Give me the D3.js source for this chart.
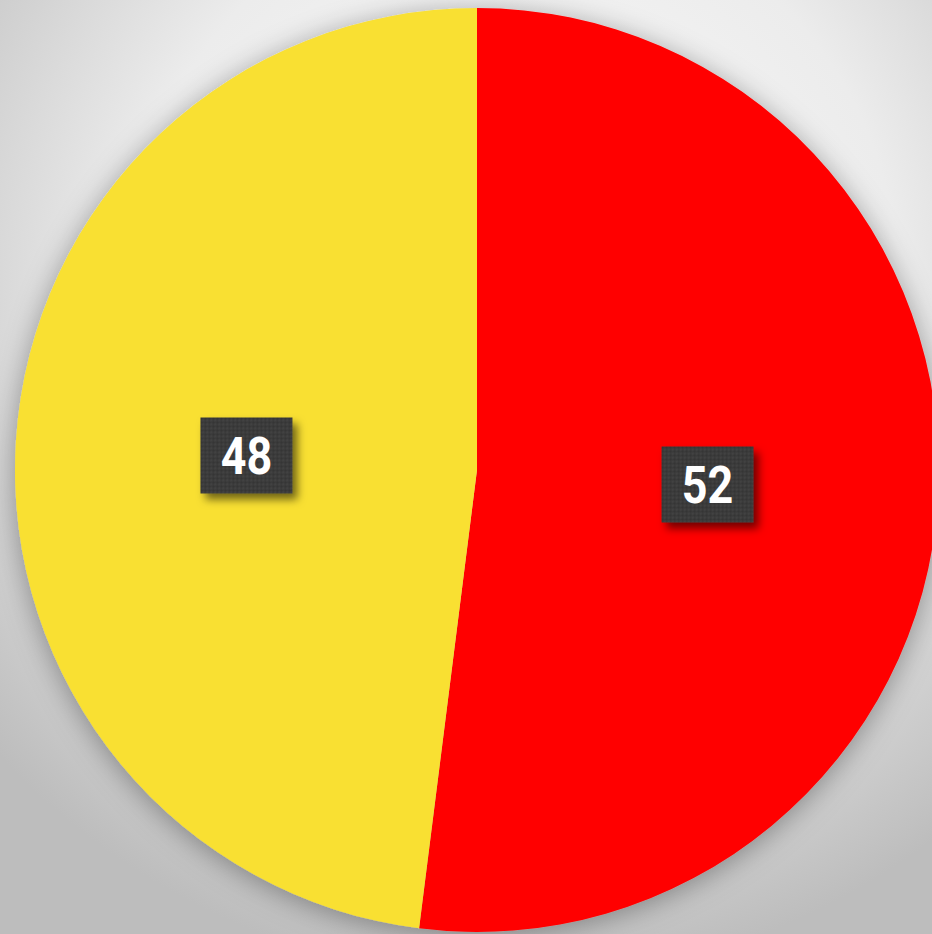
<!DOCTYPE html>
<html>
<head>
<meta charset="utf-8">
<script src="https://cdn.jsdelivr.net/npm/d3@7"></script>
<style>
  html, body { margin: 0; padding: 0; overflow: hidden; }
  body { width: 932px; height: 934px; }
</style>
</head>
<body>
<div id="chart"></div>
<script>
const categories = ['Red', 'Yellow'];
const values = [52, 48];
const colors = ['#ff0000', '#f9e033'];

const width = 932;
const height = 934;
const cx = 477, cy = 470, radius = 462;

const svg = d3.select('#chart')
  .append('svg')
  .attr('width', width)
  .attr('height', height);

const defs = svg.append('defs');

// background: light centre, grey towards edges
const bg = defs.append('radialGradient')
  .attr('id', 'bg')
  .attr('cx', '55%').attr('cy', '30%').attr('r', '75%');
bg.append('stop').attr('offset', '0%').attr('stop-color', '#fcfcfc');
bg.append('stop').attr('offset', '55%').attr('stop-color', '#ececec');
bg.append('stop').attr('offset', '100%').attr('stop-color', '#bdbdbd');

const pieShadow = defs.append('filter')
  .attr('id', 'pieShadow')
  .attr('x', '-20%').attr('y', '-20%').attr('width', '140%').attr('height', '140%');
pieShadow.append('feDropShadow')
  .attr('dx', 0).attr('dy', 4)
  .attr('stdDeviation', 14)
  .attr('flood-color', '#000')
  .attr('flood-opacity', 0.35);

const boxShadow = defs.append('filter')
  .attr('id', 'boxShadow')
  .attr('x', '-30%').attr('y', '-30%').attr('width', '160%').attr('height', '160%');
boxShadow.append('feDropShadow')
  .attr('dx', 5).attr('dy', 6)
  .attr('stdDeviation', 4)
  .attr('flood-color', '#000')
  .attr('flood-opacity', 0.55);

// dotted texture on the label boxes
const dots = defs.append('pattern')
  .attr('id', 'dots')
  .attr('width', 4).attr('height', 4)
  .attr('patternUnits', 'userSpaceOnUse');
dots.append('rect').attr('width', 4).attr('height', 4).attr('fill', '#3b3b3b');
dots.append('circle').attr('cx', 1).attr('cy', 1).attr('r', 0.8).attr('fill', '#4a4a4a');
dots.append('circle').attr('cx', 3).attr('cy', 3).attr('r', 0.8).attr('fill', '#303030');

svg.append('rect')
  .attr('width', width)
  .attr('height', height)
  .attr('fill', 'url(#bg)');

const pie = d3.pie().sort(null).value(d => d);
const arcs = pie(values);

const arc = d3.arc().innerRadius(0).outerRadius(radius);
const labelArc = d3.arc().innerRadius(radius / 2).outerRadius(radius / 2);

const g = svg.append('g')
  .attr('transform', `translate(${cx},${cy})`);

g.append('g')
  .attr('filter', 'url(#pieShadow)')
  .selectAll('path')
  .data(arcs)
  .enter().append('path')
  .attr('d', arc)
  .attr('fill', (d, i) => colors[i]);

const labels = g.selectAll('g.label')
  .data(arcs)
  .enter().append('g')
  .attr('class', 'label')
  .attr('transform', d => `translate(${labelArc.centroid(d)})`);

labels.append('rect')
  .attr('x', -46)
  .attr('y', -38)
  .attr('width', 92)
  .attr('height', 76)
  .attr('fill', 'url(#dots)')
  .attr('filter', 'url(#boxShadow)');

// numbers look slightly condensed in the original
labels.append('text')
  .attr('transform', 'scale(0.88,1)')
  .attr('text-anchor', 'middle')
  .attr('dy', '0.36em')
  .attr('fill', '#ffffff')
  .attr('font-family', 'Roboto, "Liberation Sans", sans-serif')
  .attr('font-weight', 'bold')
  .attr('font-size', 51)
  .text(d => d.data);
</script>
</body>
</html>
